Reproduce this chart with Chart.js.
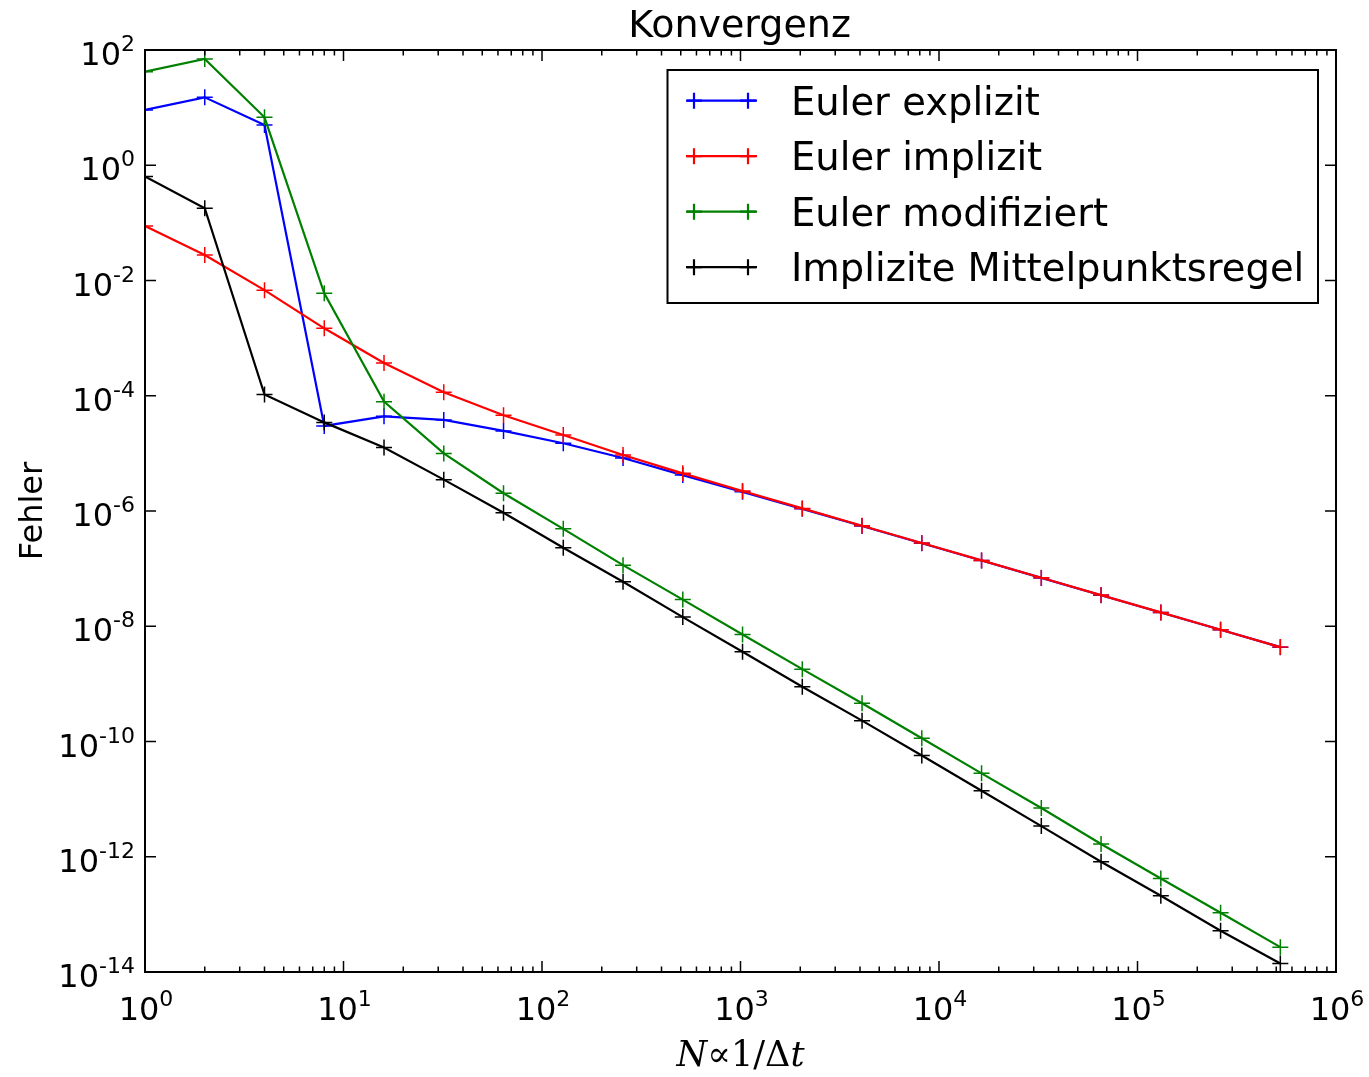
<!DOCTYPE html>
<html><head><meta charset="utf-8">
<script src="https://cdn.jsdelivr.net/npm/chart.js@4/dist/chart.umd.min.js"></script>
<style>html,body{margin:0;padding:0;background:#fff}canvas{display:block}</style>
</head><body>
<canvas id="c" width="1369" height="1077"></canvas>
<script>
// ---- data ----
const N = [1, 2, 4, 8, 16, 32, 64, 128, 256, 512, 1024, 2048, 4096, 8192, 16384, 32768, 65536, 131072, 262144, 524288];
const eulerExplizit = [9.1, 15.1, 5.0, 3.0e-5, 4.4e-5, 3.8e-5, 2.45e-5, 1.5e-5, 8.3e-6, 4.2e-6, 2.15e-6, 1.09e-6, 5.5e-7, 2.76e-7, 1.38e-7, 6.9e-8, 3.46e-8, 1.73e-8, 8.68e-9, 4.34e-9];
const eulerImplizit = [0.088, 0.0276, 6.8e-3, 1.48e-3, 3.7e-4, 1.15e-4, 4.6e-5, 2.08e-5, 9.4e-6, 4.5e-6, 2.22e-6, 1.11e-6, 5.55e-7, 2.78e-7, 1.39e-7, 6.95e-8, 3.47e-8, 1.74e-8, 8.7e-9, 4.35e-9];
const eulerModifiziert = [42, 70, 6.8, 6.0e-3, 7.9e-5, 1.0e-5, 2.03e-6, 4.9e-7, 1.15e-7, 2.9e-8, 7.2e-9, 1.8e-9, 4.6e-10, 1.14e-10, 2.8e-11, 7.0e-12, 1.66e-12, 4.2e-13, 1.07e-13, 2.7e-14];
const mittelpunkt = [0.64, 0.18, 1.05e-4, 3.45e-5, 1.26e-5, 3.5e-6, 9.3e-7, 2.3e-7, 5.9e-8, 1.44e-8, 3.6e-9, 8.9e-10, 2.3e-10, 5.7e-11, 1.4e-11, 3.4e-12, 8.2e-13, 2.1e-13, 5.2e-14, 1.4e-14];

const seriesNames = ['Euler explizit', 'Euler implizit', 'Euler modifiziert', 'Implizite Mittelpunktsregel'];
const seriesColors = ['#0000ff', '#ff0000', '#008000', '#000000'];

const xMajorTicks = [1, 10, 100, 1000, 10000, 100000, 1000000];
const xTickExponents = ['0', '1', '2', '3', '4', '5', '6'];
const yMajorTicks = [1e2, 1e0, 1e-2, 1e-4, 1e-6, 1e-8, 1e-10, 1e-12, 1e-14];
const yTickExponents = ['2', '0', '-2', '-4', '-6', '-8', '-10', '-12', '-14'];

const titleText = 'Konvergenz';
const yTitle = 'Fehler';

// ---- build chart ----
const allSeries = [eulerExplizit, eulerImplizit, eulerModifiziert, mittelpunkt];
const datasets = allSeries.map((vals, i) => ({
  label: seriesNames[i],
  data: N.map((n, j) => ({ x: n, y: vals[j] })),
  borderColor: seriesColors[i],
  backgroundColor: seriesColors[i],
  borderWidth: 2.2,
  tension: 0,
  fill: false,
  pointStyle: 'cross',
  pointRadius: 8,
  pointBorderWidth: 1.5,
  pointHoverRadius: 8,
  order: allSeries.length - i
}));

const SANS = '"DejaVu Sans", sans-serif';

function drawPower(ctx, exp, x, yBase, align) {
  ctx.font = '32px ' + SANS;
  const w1 = ctx.measureText('10').width;
  ctx.font = '22px ' + SANS;
  const w2 = ctx.measureText(exp).width;
  const total = w1 + w2;
  const start = align === 'right' ? x - total : x - total / 2;
  ctx.textAlign = 'left';
  ctx.textBaseline = 'alphabetic';
  ctx.font = '32px ' + SANS;
  ctx.fillText('10', start, yBase);
  ctx.font = '22px ' + SANS;
  ctx.fillText(exp, start + w1, yBase - 14);
}

const decor = {
  id: 'decor',
  afterDatasetsDraw(chart) {
    const { ctx, chartArea: a, scales: { x, y } } = chart;
    ctx.save();
    ctx.strokeStyle = '#000';
    ctx.lineWidth = 1.5;
    ctx.beginPath();
    const MAJ = 11, MIN = 5.5;
    xMajorTicks.forEach(v => {
      const px = x.getPixelForValue(v);
      ctx.moveTo(px, a.bottom); ctx.lineTo(px, a.bottom - MAJ);
      ctx.moveTo(px, a.top); ctx.lineTo(px, a.top + MAJ);
    });
    xMajorTicks.slice(0, -1).forEach(d => {
      for (let k = 2; k <= 9; k++) {
        const px = x.getPixelForValue(k * d);
        ctx.moveTo(px, a.bottom); ctx.lineTo(px, a.bottom - MIN);
        ctx.moveTo(px, a.top); ctx.lineTo(px, a.top + MIN);
      }
    });
    yMajorTicks.forEach(v => {
      const py = y.getPixelForValue(v);
      ctx.moveTo(a.left, py); ctx.lineTo(a.left + MAJ, py);
      ctx.moveTo(a.right, py); ctx.lineTo(a.right - MAJ, py);
    });
    ctx.stroke();
    ctx.lineWidth = 2;
    ctx.strokeRect(a.left, a.top, a.right - a.left, a.bottom - a.top);

    // legend box
    const bx0 = 667.5, by0 = 70, bx1 = 1318, by1 = 303;
    ctx.fillStyle = '#fff';
    ctx.fillRect(bx0, by0, bx1 - bx0, by1 - by0);
    ctx.lineWidth = 2;
    ctx.strokeStyle = '#000';
    ctx.strokeRect(bx0, by0, bx1 - bx0, by1 - by0);
    chart.data.datasets.forEach((ds, i) => {
      const ry = 100.7 + i * 55.5;
      ctx.strokeStyle = ds.borderColor;
      ctx.lineWidth = 2.2;
      ctx.beginPath();
      ctx.moveTo(687, ry); ctx.lineTo(757, ry);
      ctx.stroke();
      [694, 748].forEach(mx => {
        Chart.helpers.drawPoint(ctx, { pointStyle: 'cross', radius: 8, borderWidth: 1.5 }, mx, ry);
      });
      ctx.fillStyle = '#000';
      ctx.font = '38.5px ' + SANS;
      ctx.textAlign = 'left';
      ctx.textBaseline = 'alphabetic';
      ctx.fillText(ds.label, 791, ry + 14);
    });
    ctx.restore();
  },
  afterDraw(chart) {
    const { ctx, chartArea: a, scales: { x, y } } = chart;
    ctx.save();
    ctx.fillStyle = '#000';
    // tick labels
    xMajorTicks.forEach((v, i) => {
      drawPower(ctx, xTickExponents[i], x.getPixelForValue(v) + 1, 1020, 'center');
    });
    yMajorTicks.forEach((v, i) => {
      drawPower(ctx, yTickExponents[i], 135, y.getPixelForValue(v) + 15, 'right');
    });
    // title
    const cx = (a.left + a.right) / 2;
    ctx.font = '38px ' + SANS;
    ctx.textAlign = 'center';
    ctx.textBaseline = 'alphabetic';
    ctx.fillText(titleText, cx - 1, 37);
    // y title
    ctx.save();
    ctx.translate(42, (a.top + a.bottom) / 2);
    ctx.rotate(-Math.PI / 2);
    ctx.font = '32px ' + SANS;
    ctx.textAlign = 'center';
    ctx.fillText(yTitle, 0, 0);
    ctx.restore();
    // x title: N ∝ 1/Δt (math style), fitted to reference width
    const parts = [
      { t: 'N', f: s => 'italic ' + s + 'px "DejaVu Serif", serif' },
      { t: '\u221D', f: s => s + 'px "DejaVu Serif", serif' },
      { t: '1/\u0394', f: s => s + 'px "DejaVu Serif", serif' },
      { t: 't', f: s => 'italic ' + s + 'px "DejaVu Serif", serif' }
    ];
    const measure = s => parts.reduce((acc, p) => { ctx.font = p.f(s); return acc + ctx.measureText(p.t).width; }, 0);
    const size = 30 * 128 / measure(30);
    let sx = cx - measure(size) / 2;
    ctx.textAlign = 'left';
    parts.forEach(p => { ctx.font = p.f(size); ctx.fillText(p.t, sx, 1066); sx += ctx.measureText(p.t).width; });
    ctx.restore();
  }
};

new Chart(document.getElementById('c'), {
  type: 'line',
  data: { datasets },
  options: {
    responsive: false,
    animation: false,
    events: [],
    layout: { padding: { left: 0, right: 33, top: 50, bottom: 0 } },
    plugins: { legend: { display: false }, title: { display: false }, tooltip: { enabled: false } },
    scales: {
      x: {
        type: 'logarithmic', min: 1, max: 1e6,
        ticks: { display: false }, grid: { display: false }, border: { display: false },
        afterFit(s) { s.height = 105; }
      },
      y: {
        type: 'logarithmic', min: 1e-14, max: 1e2,
        ticks: { display: false }, grid: { display: false }, border: { display: false },
        afterFit(s) { s.width = 145; }
      }
    }
  },
  plugins: [decor]
});
</script>
</body></html>
